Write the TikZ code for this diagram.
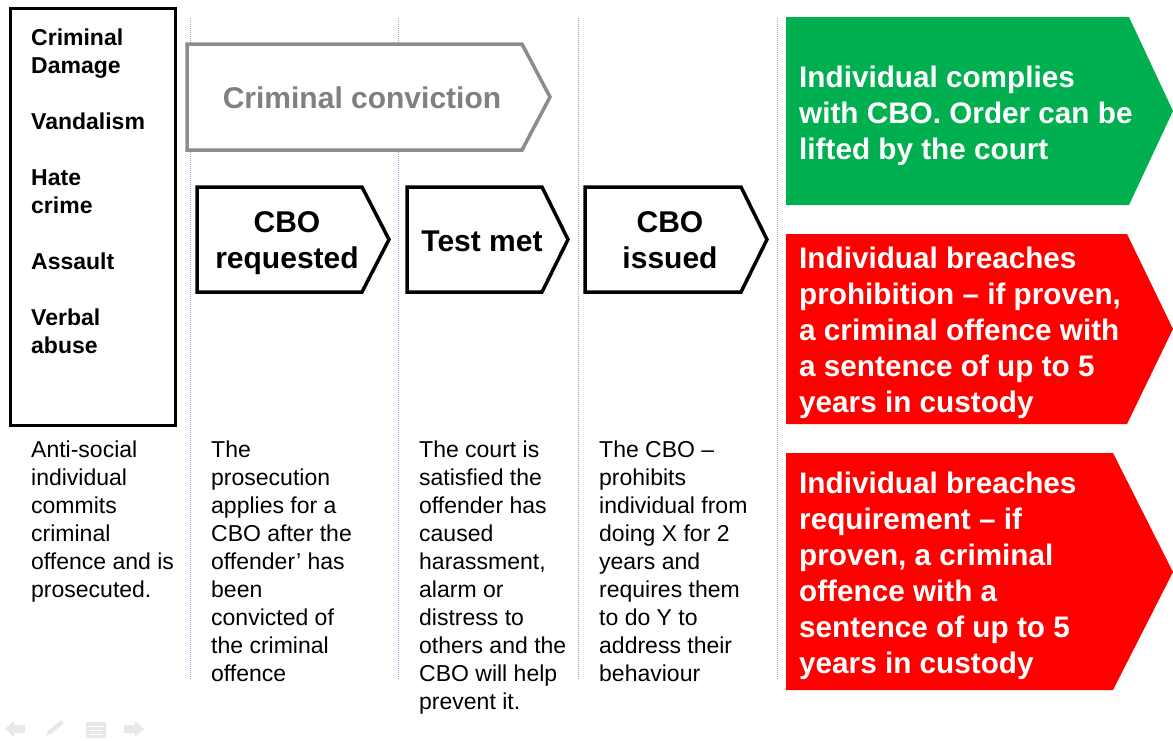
\documentclass[tikz,border=0pt]{standalone}
\usepackage{fontspec}
\setmainfont{Liberation Sans}
\definecolor{cgreen}{RGB}{0,176,80}
\definecolor{cred}{RGB}{255,0,0}
\definecolor{cgrayline}{RGB}{140,140,140}
\definecolor{cgraytext}{RGB}{128,128,128}
\definecolor{csep}{RGB}{140,170,215}
\definecolor{cicon}{RGB}{232,232,232}
\begin{document}
\begin{tikzpicture}[x=1pt,y=-1pt,
  sepline/.style={draw=csep,line width=0.8pt,dash pattern=on 0.8pt off 1.2pt},
  chev/.style={draw=black,line width=3.5pt,line join=miter,fill=white},
  chevgray/.style={draw=cgrayline,line width=3.5pt,line join=miter,fill=white},
  listtext/.style={anchor=north west,inner sep=0pt,align=left,font=\fontsize{23}{28}\selectfont\bfseries},
  desc/.style={anchor=north west,inner sep=0pt,align=left,font=\fontsize{23}{28}\selectfont},
  chevtext/.style={inner sep=0pt,align=center,font=\fontsize{30}{36}\selectfont\bfseries},
  outtext/.style={anchor=north west,inner sep=0pt,align=left,text=white,font=\fontsize{29.7}{36}\selectfont\bfseries},
  iconshape/.style={fill=cicon,draw=none}]
\useasboundingbox (0,0) rectangle (1173,740);
\fill[white] (0,0) rectangle (1173,740);

% separators
\foreach \xx in {190,398,578,777} {\draw[sepline] (\xx,18) -- (\xx,680);}

% left box
\draw[line width=3pt] (10,8) rectangle (175,425);
\node[listtext] (offences) at (31,29) {Criminal\\Damage\\[28pt]Vandalism\\[28pt]Hate\\crime\\[28pt]Assault\\[28pt]Verbal\\abuse};

% criminal conviction chevron
\draw[chevgray] (187,44) -- (522,44) -- (550,97) -- (522,150) -- (187,150) -- cycle;
\node[chevtext,text=cgraytext] (conviction) at (362,98) {Criminal conviction};

% step chevrons
\draw[chev] (197,187) -- (362,187) -- (389,239.5) -- (362,292) -- (197,292) -- cycle;
\node[chevtext,anchor=north] (requested) at (287,211) {CBO\\requested};
\draw[chev] (407,187) -- (542,187) -- (568,239.5) -- (542,292) -- (407,292) -- cycle;
\node[chevtext] (testmet) at (482,241) {Test met};
\draw[chev] (585,187) -- (741,187) -- (767,239.5) -- (741,292) -- (585,292) -- cycle;
\node[chevtext,anchor=north] (issued) at (670,211) {CBO\\issued};

% outcome chevrons
\fill[cgreen] (786,17) -- (1129,17) -- (1173,111) -- (1129,205) -- (786,205) -- cycle;
\node[outtext] (complies) at (799,66) {Individual complies\\with CBO. Order can be\\lifted by the court};
\fill[cred] (786,234) -- (1127,234) -- (1173,329) -- (1127,424) -- (786,424) -- cycle;
\node[outtext] (prohibition) at (799,247) {Individual breaches\\prohibition – if proven,\\a criminal offence with\\a sentence of up to 5\\years in custody};
\fill[cred] (786,453) -- (1113,453) -- (1173,572) -- (1113,690) -- (786,690) -- cycle;
\node[outtext] (requirement) at (799,472) {Individual breaches\\requirement – if\\proven, a criminal\\offence with a\\sentence of up to 5\\years in custody};

% descriptions
\node[desc] (d1) at (31,441) {Anti-social\\individual\\commits\\criminal\\offence and is\\prosecuted.};
\node[desc] (d2) at (211,441) {The\\prosecution\\applies for a\\CBO after the\\offender’ has\\been\\convicted of\\the criminal\\offence};
\node[desc] (d3) at (419,441) {The court is\\satisfied the\\offender has\\caused\\harassment,\\alarm or\\distress to\\others and the\\CBO will help\\prevent it.};
\node[desc] (d4) at (599,441) {The CBO –\\prohibits\\individual from\\doing X for 2\\years and\\requires them\\to do Y to\\address their\\behaviour};

% faint slideshow icons
\fill[iconshape] (5,729) -- (14,721) -- (14,725) -- (25,725) -- (25,733) -- (14,733) -- (14,737) -- cycle;
\fill[iconshape] (46,736) -- (48,731) -- (61,720) -- (64,723) -- (51,734) -- cycle;
\fill[iconshape,rounded corners=1.5pt] (86,722) rectangle (106,738);
\foreach \yy in {726,730,734} {\draw[white,line width=1pt] (89,\yy) -- (103,\yy);}
\fill[iconshape] (144,729) -- (135,721) -- (135,725) -- (124,725) -- (124,733) -- (135,733) -- (135,737) -- cycle;
\end{tikzpicture}
\end{document}
